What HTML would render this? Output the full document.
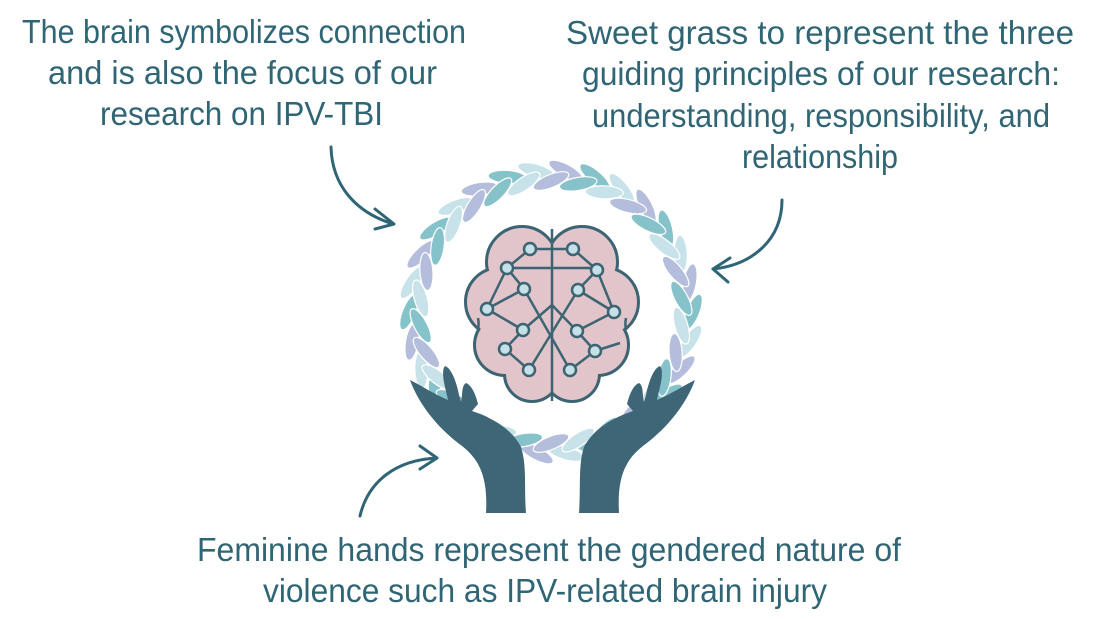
<!DOCTYPE html>
<html><head><meta charset="utf-8"><style>
html,body{margin:0;padding:0;background:#fff;width:1100px;height:619px;overflow:hidden}
svg{display:block}
text{font-family:"Liberation Sans",sans-serif;fill:#2f6574;font-size:33px}
</style></head><body>
<svg id="s" width="1100" height="619" viewBox="0 0 1100 619" xmlns="http://www.w3.org/2000/svg">
<g id="braid"></g>
<!-- brain -->
<g stroke="#3d6472" stroke-width="6" fill="#e2c5cb">
<circle cx="522" cy="262" r="34"/><circle cx="582" cy="262" r="34"/>
<circle cx="500" cy="302" r="33"/><circle cx="604" cy="302" r="33"/>
<circle cx="505" cy="345" r="29"/><circle cx="598" cy="345" r="29"/>
<circle cx="532" cy="374" r="26"/><circle cx="572" cy="374" r="26"/>
</g>
<g fill="#e2c5cb">
<circle cx="522" cy="262" r="34"/><circle cx="582" cy="262" r="34"/>
<circle cx="500" cy="302" r="33"/><circle cx="604" cy="302" r="33"/>
<circle cx="505" cy="345" r="29"/><circle cx="598" cy="345" r="29"/>
<circle cx="532" cy="374" r="26"/><circle cx="572" cy="374" r="26"/>
<circle cx="552" cy="312" r="55"/>
</g>
<g stroke="#3d6472" stroke-width="2.5" fill="none">
<path d="M552,229 V401"/>
<path d="M530,249 H573 M507,268 H597"/>
<path d="M530,249 L507,268 M573,249 L597,270 M507,268 L487,309 M507,268 L524,289 M487,309 L524,289 M524,289 L570,370 M578,290 L529,370 M578,290 L597,270 M578,290 L614,312 M597,270 L614,312 M487,309 L523,330 M523,330 L552,305 M614,312 L577,331 M577,331 L552,305 M577,331 L595,351 M595,351 L620,343 M523,330 L505,349 M505,349 L529,370 M570,370 L595,351"/>
<path d="M478,318 A30 30 0 0 1 478,330 M626,318 A30 30 0 0 0 626,330"/>
</g>
<g fill="#c5e0e6" stroke="#3d6472" stroke-width="2.5">
<circle cx="530" cy="249" r="6"/><circle cx="573" cy="249" r="6"/>
<circle cx="507" cy="268" r="6"/><circle cx="597" cy="270" r="6"/>
<circle cx="524" cy="289" r="6"/><circle cx="578" cy="290" r="6"/>
<circle cx="487" cy="309" r="6"/><circle cx="614" cy="312" r="6"/>
<circle cx="523" cy="330" r="6"/><circle cx="577" cy="331" r="6"/>
<circle cx="505" cy="349" r="6"/><circle cx="595" cy="351" r="6"/>
<circle cx="529" cy="370" r="6"/><circle cx="570" cy="370" r="6"/>
</g>
<!-- hands -->
<g fill="#3e6676">
<path id="hand" d="M410,380 C418,402 435,426 462,446 C480,460 488,478 486,513 L526,513 C524,486 527,466 521,447 C511,428 492,418 472,411 L478,404 C475,392 471,385 466,383 C461,386 463,395 461,402 L459,395 C456,380 451,368 445,366 C440,372 446,390 448,400 C434,394 422,386 410,380 Z"/>
<use href="#hand" transform="translate(1105,0) scale(-1,1)"/>
</g>
<!-- arrows -->
<g stroke="#2f6574" stroke-width="3" fill="none" stroke-linecap="round" stroke-linejoin="round">
<path d="M331,147 C332,185 355,212 393,224"/>
<path d="M375,209 L394,224 L375,229"/>
<path d="M782,200 C782,240 752,265 713,269"/>
<path d="M730,258 L713,269 L728,282"/>
<path d="M360,516 C368,482 395,460 437,458"/>
<path d="M420,446 L437,458 L420,469"/>
</g>
<!-- text -->
<text x="22" y="43" textLength="444" lengthAdjust="spacingAndGlyphs">The brain symbolizes connection</text>
<text x="48" y="84" textLength="389" lengthAdjust="spacingAndGlyphs">and is also the focus of our</text>
<text x="100" y="125" textLength="283" lengthAdjust="spacingAndGlyphs">research on IPV-TBI</text>
<text x="566" y="44" textLength="508" lengthAdjust="spacingAndGlyphs">Sweet grass to represent the three</text>
<text x="582" y="85" textLength="478" lengthAdjust="spacingAndGlyphs">guiding principles of our research:</text>
<text x="592" y="127" textLength="458" lengthAdjust="spacingAndGlyphs">understanding, responsibility, and</text>
<text x="742" y="168" textLength="156" lengthAdjust="spacingAndGlyphs">relationship</text>
<text x="197" y="561" textLength="704" lengthAdjust="spacingAndGlyphs">Feminine hands represent the gendered nature of</text>
<text x="263" y="602" textLength="564" lengthAdjust="spacingAndGlyphs">violence such as IPV-related brain injury</text>
</svg>
<script>
(function(){
var g=document.getElementById('braid'),ns='http://www.w3.org/2000/svg';
var cx=551,cy=312,cols=['#86c2c9','#c7e2e8','#b5bddc'];
var N=30;
for(var row=0;row<2;row++){
 for(var k=0;k<N;k++){
  var a=(k+row*0.5)*2*Math.PI/N;
  var r=row?131:142;
  var x=cx+r*Math.cos(a),y=cy+r*Math.sin(a);
  var deg=a*180/Math.PI+90+(row?-22:22);
  var e=document.createElementNS(ns,'ellipse');
  e.setAttribute('cx',x.toFixed(1));e.setAttribute('cy',y.toFixed(1));
  e.setAttribute('rx','19');e.setAttribute('ry','6.5');
  e.setAttribute('transform','rotate('+deg.toFixed(1)+' '+x.toFixed(1)+' '+y.toFixed(1)+')');
  e.setAttribute('fill',cols[(k+row)%3]);
  e.setAttribute('stroke','#fff');e.setAttribute('stroke-width','1.2');
  g.appendChild(e);
 }
}
})();
</script>
</body></html>
